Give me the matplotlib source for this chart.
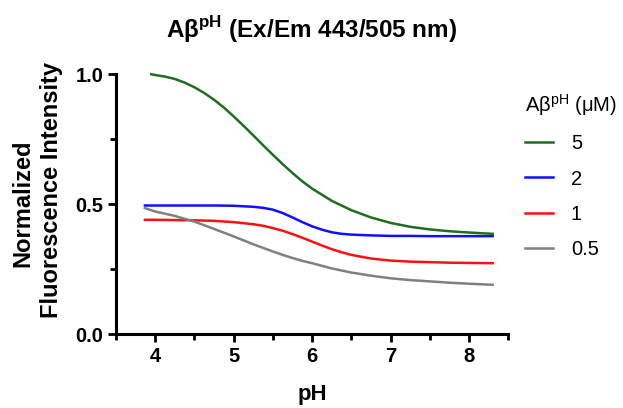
import numpy as np
import matplotlib.pyplot as plt
from matplotlib.ticker import MultipleLocator

plt.rcParams['font.family'] = ['Liberation Sans', 'DejaVu Sans']
plt.rcParams['mathtext.fontset'] = 'custom'
plt.rcParams['mathtext.rm'] = 'Liberation Sans'
plt.rcParams['mathtext.bf'] = 'Liberation Sans:bold'

# pH values
ph_green = [3.95, 4.0, 4.125, 4.25, 4.375, 4.5, 4.625, 4.75, 4.875, 5.0, 5.125,
            5.25, 5.375, 5.5, 5.625, 5.75, 5.875, 6.0, 6.25, 6.5, 6.75, 7.0,
            7.25, 7.5, 7.75, 8.0, 8.3]
ph = [3.87, 4.0, 4.25, 4.5, 4.75, 5.0, 5.25, 5.375, 5.5, 5.625, 5.75, 5.875,
      6.0, 6.125, 6.25, 6.375, 6.5, 6.75, 7.0, 7.25, 7.5, 7.75, 8.0, 8.3]

# normalized fluorescence for each concentration
y_5 = [1.0, 0.997, 0.991, 0.982, 0.968, 0.950, 0.928, 0.902, 0.872, 0.838,
       0.802, 0.765, 0.727, 0.690, 0.654, 0.620, 0.588, 0.560, 0.513, 0.477,
       0.449, 0.428, 0.413, 0.403, 0.396, 0.391, 0.386]
y_2 = [0.495, 0.495, 0.495, 0.495, 0.495, 0.494, 0.490, 0.486, 0.479, 0.466,
       0.449, 0.431, 0.415, 0.402, 0.392, 0.386, 0.383, 0.380, 0.378, 0.378,
       0.377, 0.377, 0.377, 0.377]
y_1 = [0.440, 0.440, 0.439, 0.438, 0.436, 0.431, 0.423, 0.417, 0.408, 0.398,
       0.385, 0.371, 0.356, 0.341, 0.327, 0.315, 0.305, 0.291, 0.283, 0.279,
       0.277, 0.275, 0.274, 0.273]
y_05 = [0.485, 0.472, 0.455, 0.433, 0.405, 0.376, 0.346, 0.332, 0.318, 0.305,
        0.293, 0.282, 0.273, 0.263, 0.253, 0.245, 0.237, 0.225, 0.215, 0.208,
        0.203, 0.198, 0.194, 0.190]

labels = ['5', '2', '1', '0.5']
colors = ['#1f6e1f', '#1010ff', '#ff1010', '#808080']

fig = plt.figure(figsize=(6.23, 4.08), dpi=100)
ax = fig.add_axes([0.186, 0.181, 0.630, 0.637])

ax.plot(ph_green, y_5, color=colors[0], lw=1.8, label=labels[0], clip_on=False)
ax.plot(ph, y_2, color=colors[1], lw=1.8, label=labels[1], clip_on=False)
ax.plot(ph, y_1, color=colors[2], lw=1.8, label=labels[2], clip_on=False)
ax.plot(ph, y_05, color=colors[3], lw=1.8, label=labels[3], clip_on=False)

ax.set_xlim(3.5, 8.5)
ax.set_ylim(0, 1.0)
ax.set_xticks([4, 5, 6, 7, 8])
ax.set_yticks([0.0, 0.5, 1.0])
ax.set_yticklabels(['0.0', '0.5', '1.0'])
ax.xaxis.set_minor_locator(MultipleLocator(0.5))
ax.yaxis.set_minor_locator(MultipleLocator(0.25))

for s in ['top', 'right']:
    ax.spines[s].set_visible(False)
for s in ['left', 'bottom']:
    ax.spines[s].set_linewidth(2.2)
ax.tick_params(which='major', length=6, width=2, labelsize=14.5, pad=3)
ax.tick_params(which='minor', length=4, width=2)
for t in ax.get_xticklabels() + ax.get_yticklabels():
    t.set_fontweight('bold')

ax.set_xlabel('pH', fontsize=16, fontweight='bold', labelpad=13)

# two-line y label, each line placed on its own like the original
fig.text(23 / 623, 1 - 203 / 408, 'Normalized', rotation=90, ha='center',
         va='center', fontsize=17, fontweight='bold')
fig.text(52 / 623, 1 - 190 / 408, 'Fluorescence Intensity', rotation=90,
         ha='center', va='center', fontsize=17, fontweight='bold')

fig.text(312 / 623, 1 - 30 / 408, r'Aβ$^{\mathbf{pH}}$ (Ex/Em 443/505 nm)',
         ha='center', va='center', fontsize=17.5, fontweight='bold')

leg = ax.legend(loc='upper left', bbox_to_anchor=(0.995, 1.0), frameon=False,
                title=r'Aβ$^{\mathrm{pH}}$ (μM)', fontsize=14.5,
                title_fontsize=14.5, handlelength=1.4, handletextpad=0.9,
                labelspacing=0.8)
leg._legend_box.align = 'left'

fig.savefig('out.png', dpi=100)
